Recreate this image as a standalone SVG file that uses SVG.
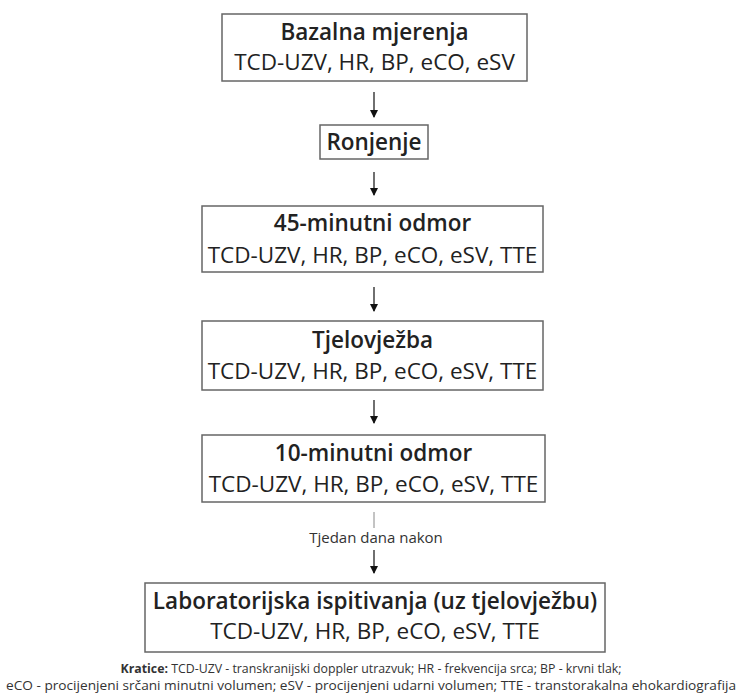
<svg xmlns="http://www.w3.org/2000/svg" width="743" height="700" viewBox="0 0 743 700">
<style>
.box{fill:#fff;stroke:#666;stroke-width:1.5}
.t{font-family:"Open Sans",sans-serif;font-weight:600;font-size:22.5px;fill:#222;text-anchor:middle}
.s{font-family:"Open Sans",sans-serif;font-size:22.5px;fill:#222;text-anchor:middle}
.c{stroke:#222;stroke-width:1.3;fill:none}
.lbl{font-family:"Open Sans",sans-serif;font-size:15px;fill:#333;text-anchor:middle}
.f{font-family:"Open Sans",sans-serif;font-size:12.5px;fill:#333;text-anchor:middle}
</style>
<defs>
<marker id="ah" markerWidth="8" markerHeight="8" refX="7" refY="4" orient="auto" markerUnits="userSpaceOnUse">
<path d="M0,0 L8,4 L0,8 Z" fill="#111"/>
</marker>
</defs>
<rect width="743" height="700" fill="#fff"/>
<g id="connectors">
<line class="c" x1="374" y1="92" x2="374" y2="117" marker-end="url(#ah)"/>
<line class="c" x1="374" y1="172" x2="374" y2="195" marker-end="url(#ah)"/>
<line class="c" x1="374" y1="287" x2="374" y2="311" marker-end="url(#ah)"/>
<line class="c" x1="374" y1="400" x2="374" y2="423" marker-end="url(#ah)"/>
<line stroke="#888" stroke-width="1" x1="374" y1="512" x2="374" y2="528"/>
<line class="c" x1="374" y1="550" x2="374" y2="573" marker-end="url(#ah)"/>
<text class="lbl" x="376" y="543">Tjedan dana nakon</text>
</g>
<g id="n1">
<rect class="box" x="222" y="14" width="305" height="67"/>
<text class="t" x="374.5" y="40">Bazalna mjerenja</text>
<text class="s" x="374.5" y="70">TCD-UZV, HR, BP, eCO, eSV</text>
</g>
<g id="n2">
<rect class="box" x="320" y="125" width="108" height="34"/>
<text class="t" x="374" y="150">Ronjenje</text>
</g>
<g id="n3">
<rect class="box" x="202" y="206" width="341" height="66"/>
<text class="t" x="372.5" y="231">45-minutni odmor</text>
<text class="s" x="372.5" y="263">TCD-UZV, HR, BP, eCO, eSV, TTE</text>
</g>
<g id="n4">
<rect class="box" x="202" y="321" width="341" height="69"/>
<text class="t" x="372.5" y="348">Tjelovježba</text>
<text class="s" x="372.5" y="379">TCD-UZV, HR, BP, eCO, eSV, TTE</text>
</g>
<g id="n5">
<rect class="box" x="202" y="435" width="343" height="67"/>
<text class="t" x="373.5" y="461">10-minutni odmor</text>
<text class="s" x="373.5" y="492">TCD-UZV, HR, BP, eCO, eSV, TTE</text>
</g>
<g id="n6">
<rect class="box" x="145" y="583" width="460" height="69"/>
<text class="t" x="375" y="609">Laboratorijska ispitivanja (uz tjelovježbu)</text>
<text class="s" x="375" y="639">TCD-UZV, HR, BP, eCO, eSV, TTE</text>
</g>
<g id="footer">
<text class="f" x="371" y="673" textLength="501" lengthAdjust="spacingAndGlyphs"><tspan font-weight="700">Kratice:</tspan> TCD-UZV - transkranijski doppler utrazvuk; HR - frekvencija srca; BP - krvni tlak;</text>
<text class="f" x="371" y="690" textLength="730" lengthAdjust="spacingAndGlyphs">eCO - procijenjeni srčani minutni volumen; eSV - procijenjeni udarni volumen; TTE - transtorakalna ehokardiografija</text>
</g>
</svg>
